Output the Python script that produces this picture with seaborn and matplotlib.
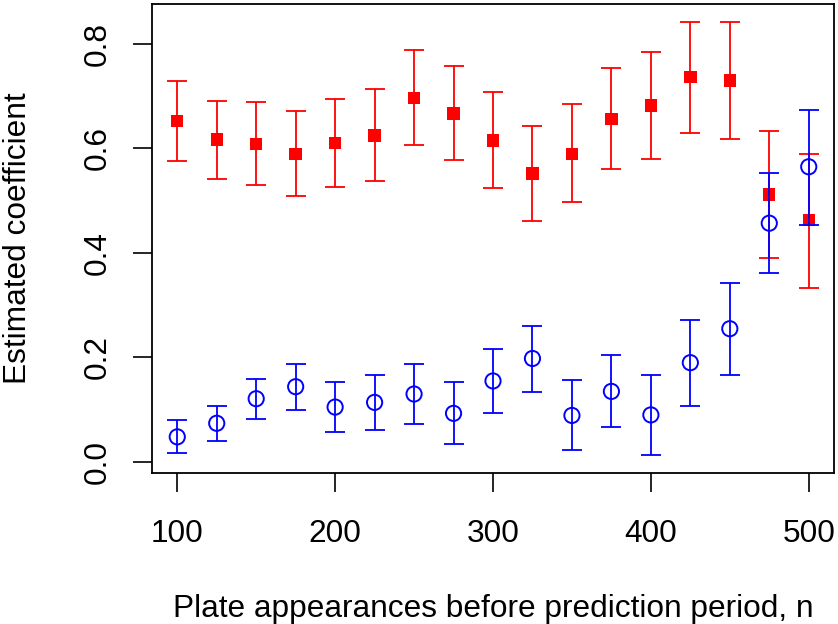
import matplotlib
matplotlib.use("Agg")
import matplotlib.pyplot as plt
import seaborn as sns
import pandas as pd

n_values = [100, 125, 150, 175, 200, 225, 250, 275, 300, 325, 350, 375, 400, 425, 450, 475, 500]

red_est = [0.653, 0.617, 0.609, 0.590, 0.611, 0.625, 0.697, 0.667, 0.615, 0.552, 0.590, 0.657, 0.682, 0.737, 0.730, 0.512, 0.463]
red_low = [0.577, 0.542, 0.531, 0.509, 0.526, 0.537, 0.607, 0.578, 0.524, 0.461, 0.497, 0.560, 0.579, 0.630, 0.618, 0.390, 0.332]
red_high = [0.729, 0.691, 0.689, 0.672, 0.695, 0.713, 0.789, 0.757, 0.708, 0.643, 0.685, 0.755, 0.784, 0.843, 0.843, 0.634, 0.590]

blue_est = [0.048, 0.074, 0.121, 0.144, 0.105, 0.114, 0.130, 0.093, 0.155, 0.198, 0.089, 0.135, 0.090, 0.190, 0.255, 0.457, 0.565]
blue_low = [0.017, 0.041, 0.082, 0.100, 0.057, 0.061, 0.072, 0.034, 0.093, 0.134, 0.022, 0.066, 0.013, 0.108, 0.167, 0.361, 0.454]
blue_high = [0.080, 0.108, 0.159, 0.188, 0.153, 0.167, 0.187, 0.153, 0.216, 0.261, 0.156, 0.204, 0.167, 0.272, 0.343, 0.553, 0.674]

x_ticks = [100, 200, 300, 400, 500]
y_ticks = [0.0, 0.2, 0.4, 0.6, 0.8]
y_tick_labels = ["0.0", "0.2", "0.4", "0.6", "0.8"]
x_label = "Plate appearances before prediction period, n"
y_label = "Estimated coefficient"

sns.set_style("white")
plt.rcParams["font.family"] = ["Liberation Sans", "DejaVu Sans"]
plt.rcParams["text.color"] = "black"
plt.rcParams["axes.labelcolor"] = "black"

FS = 22.8

fig = plt.figure(figsize=(8.38, 6.24), dpi=100)
ax = fig.add_axes([152 / 838, 1 - 473 / 624, (834 - 152) / 838, (473 - 4) / 624])

df_red = pd.DataFrame({"n": n_values, "est": red_est, "low": red_low, "high": red_high})
df_blue = pd.DataFrame({"n": n_values, "est": blue_est, "low": blue_low, "high": blue_high})

# error bars and points
ax.errorbar(df_red["n"], df_red["est"],
            yerr=[df_red["est"] - df_red["low"], df_red["high"] - df_red["est"]],
            fmt="none", ecolor="#ff0000", elinewidth=1.3, capsize=7.2, capthick=1.3, zorder=2)
sns.scatterplot(data=df_red, x="n", y="est", marker="s", s=80, color="#ff0000",
                edgecolor="none", linewidth=0, ax=ax, zorder=3)
ax.errorbar(df_blue["n"], df_blue["est"],
            yerr=[df_blue["est"] - df_blue["low"], df_blue["high"] - df_blue["est"]],
            fmt="none", ecolor="#0000ff", elinewidth=1.3, capsize=7.2, capthick=1.3, zorder=4)
sns.scatterplot(data=df_blue, x="n", y="est", marker="o", s=120, facecolor="none",
                edgecolor="#0000ff", linewidth=1.4, ax=ax, zorder=5)

ax.set_xlim(84, 516)
ax.set_ylim(-0.0212, 0.8766)
ax.set_xticks(x_ticks)
ax.set_xticklabels([str(v) for v in x_ticks])
ax.set_yticks(y_ticks)
ax.set_yticklabels(y_tick_labels, rotation=90, va="center")

ax.tick_params(axis="both", direction="out", length=14, width=1.2, colors="black",
               labelcolor="black", labelsize=FS, left=True, bottom=True)
ax.tick_params(axis="x", pad=19.4)
ax.tick_params(axis="y", pad=14.3)

for sp in ax.spines.values():
    sp.set_visible(True)
    sp.set_color("black")
    sp.set_linewidth(1.3)

ax.set_xlabel(x_label, fontsize=FS, color="black")
ax.set_ylabel(y_label, fontsize=FS, color="black")
ax.xaxis.set_label_coords(0.5, (473 - 593.5) / 469)
ax.yaxis.set_label_coords((32.7 - 152) / 682, 0.5)

fig.savefig("out.png", dpi=100, facecolor="white")
